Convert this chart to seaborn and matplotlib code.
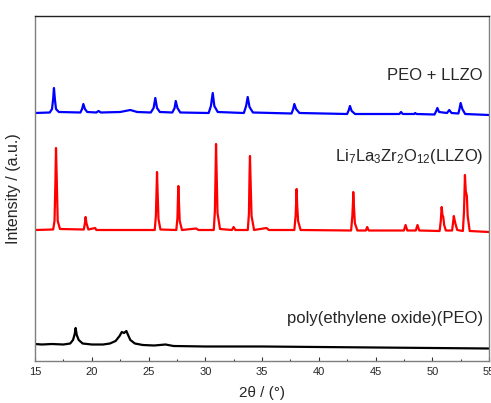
import numpy as np
import pandas as pd
import matplotlib
matplotlib.use("Agg")
import matplotlib.pyplot as plt
from matplotlib.ticker import MultipleLocator
import seaborn as sns

# PEO + LLZO (blue, top)
blue_x = [15.0, 16.3, 16.5, 16.6, 16.67, 16.75, 16.85, 17.1, 19.0, 19.15, 19.26, 19.4, 19.6,
          20.4, 20.6, 20.8, 22.5, 23.4, 24.0, 25.2, 25.45, 25.6, 25.75, 26.0, 27.1, 27.3,
          27.4, 27.55, 27.8, 30.3, 30.5, 30.66, 30.8, 31.1, 33.4, 33.6, 33.74, 33.9, 34.2,
          37.6, 37.75, 37.85, 38.0, 38.3, 42.5, 42.65, 42.75, 42.9, 43.2, 47.1, 47.25, 47.4,
          48.4, 48.5, 48.6, 50.2, 50.35, 50.45, 50.6, 51.3, 51.5, 51.7, 52.3, 52.4, 52.5,
          52.65, 52.9, 55.0]
blue_y = [248, 248.5, 252, 262, 273, 262, 252, 249, 248.5, 252, 257, 252, 249,
          248.5, 250, 248.5, 249, 251, 249, 248.5, 253, 263, 253, 249, 248.5, 253,
          260, 253, 248.5, 248, 255, 268, 255, 249, 248, 255, 264, 254, 248.5,
          247.5, 252, 257, 252, 248, 247, 251, 255, 250, 247, 247, 249, 247,
          247, 248, 247, 246.5, 250, 253, 249, 248, 251, 248, 247.5, 252, 258,
          252, 247, 246]

# LLZO (red, middle)
red_x = [15.0, 16.6, 16.72, 16.8, 16.85, 16.92, 17.0, 17.2, 19.3, 19.4, 19.46, 19.53, 19.7,
         20.3, 20.4, 25.55, 25.65, 25.72, 25.75, 25.8, 25.88, 26.05, 27.45, 27.55, 27.6,
         27.63, 27.68, 27.75, 27.95, 29.2, 29.4, 30.75, 30.85, 30.92, 30.95, 31.0, 31.08,
         31.3, 32.35, 32.5, 32.65, 33.75, 33.85, 33.9, 33.94, 34.0, 34.08, 34.3, 35.4, 35.6,
         37.85, 37.96, 38.02, 38.05, 38.1, 38.18, 38.4, 42.85, 42.96, 43.02, 43.04, 43.1,
         43.18, 43.4, 44.15, 44.27, 44.4, 47.5, 47.65, 47.8, 48.55, 48.7, 48.85, 50.65,
         50.75, 50.83, 50.9, 50.97, 51.05, 51.2, 51.75, 51.85, 51.9, 51.97, 52.05, 52.2,
         52.7, 52.8, 52.88, 52.95, 53.05, 53.12, 53.3, 55.0]
red_y = [131, 131.5, 140, 180, 213, 180, 140, 132, 131.5, 138, 144, 138, 131.5,
         133, 131, 131, 145, 175, 189, 170, 142, 131.5, 131, 143, 165,
         175, 160, 140, 131, 132.5, 131, 131, 150, 195, 217, 190, 148,
         132, 131, 134, 131, 131, 148, 185, 205, 178, 145, 131, 133, 131,
         131, 145, 162, 172, 156, 140, 131, 130.5, 145, 160, 169, 155,
         138, 130.5, 130.5, 134, 130.5, 130.5, 136, 130.5, 130.5, 136, 130.5, 130,
         140, 154, 146, 144, 136, 130.5, 130.5, 140, 145, 141, 137, 131,
         130, 150, 186, 170, 165, 145, 130, 129]

# PEO (black, bottom)
black_x = [15.0, 15.6, 16.5, 17.5, 18.1, 18.35, 18.5, 18.58, 18.68, 18.85, 19.2, 20.0, 21.0,
           21.6, 22.1, 22.45, 22.65, 22.85, 23.05, 23.2, 23.4, 23.8, 24.5, 25.5, 26.5,
           27.2, 30.0, 35.0, 40.0, 45.0, 50.0, 55.0]
black_y = [17, 16.5, 17, 16.5, 17.5, 21, 27, 33, 26, 21, 17.5, 16.5, 16.5,
           17.5, 20, 25, 29, 28, 30, 26, 21, 17.5, 16, 15.5, 16.5,
           15, 14.5, 14.5, 14, 13.5, 13, 12.5]

labels = ["PEO + LLZO", "Li$_7$La$_3$Zr$_2$O$_{12}$(LLZO)", "poly(ethylene oxide)(PEO)"]

sns.set_style("ticks")
plt.rcParams["font.family"] = ["Liberation Sans", "DejaVu Sans"]
plt.rcParams["mathtext.fontset"] = "custom"
plt.rcParams["mathtext.rm"] = "Liberation Sans"
plt.rcParams["mathtext.it"] = "Liberation Sans"

fig = plt.figure(figsize=(4.91, 4.03), dpi=100)
ax = fig.add_axes([35 / 491, 1 - 361 / 403, 454 / 491, 345 / 403])

sns.lineplot(x=blue_x, y=blue_y, color="#0000ff", lw=1.6, ax=ax)
sns.lineplot(x=red_x, y=red_y, color="#ff0000", lw=1.6, ax=ax)
sns.lineplot(x=black_x, y=black_y, color="black", lw=1.6, ax=ax)

ax.set_xlim(15, 55)
ax.set_ylim(0, 345)
ax.set_yticks([])
ax.xaxis.set_major_locator(MultipleLocator(5))
ax.xaxis.set_minor_locator(MultipleLocator(2.5))
ax.tick_params(axis="x", which="major", direction="in", length=3, width=0.8,
               color="#333333", labelsize=8, pad=4)
ax.tick_params(axis="x", which="minor", direction="in", length=1.6, width=0.8,
               color="#333333")
ax.set_xlabel("2θ / (°)", fontsize=11, labelpad=7)
ax.set_ylabel("Intensity / (a.u.)", fontsize=11.5)
ax.yaxis.set_label_coords(-0.031, 0.5)

for side in ["left", "right", "bottom"]:
    ax.spines[side].set_color("#7f7f7f")
    ax.spines[side].set_linewidth(1.0)
ax.spines["top"].set_color("#222222")
ax.spines["top"].set_linewidth(1.0)

ax.text(0.987, 361 - 75, labels[0], transform=ax.get_yaxis_transform(),
        ha="right", va="center", fontsize=12)
ax.text(0.987, 361 - 156, labels[1], transform=ax.get_yaxis_transform(),
        ha="right", va="center", fontsize=12)
ax.text(0.987, 361 - 318, labels[2], transform=ax.get_yaxis_transform(),
        ha="right", va="center", fontsize=12)

fig.savefig("out.png", dpi=100)
